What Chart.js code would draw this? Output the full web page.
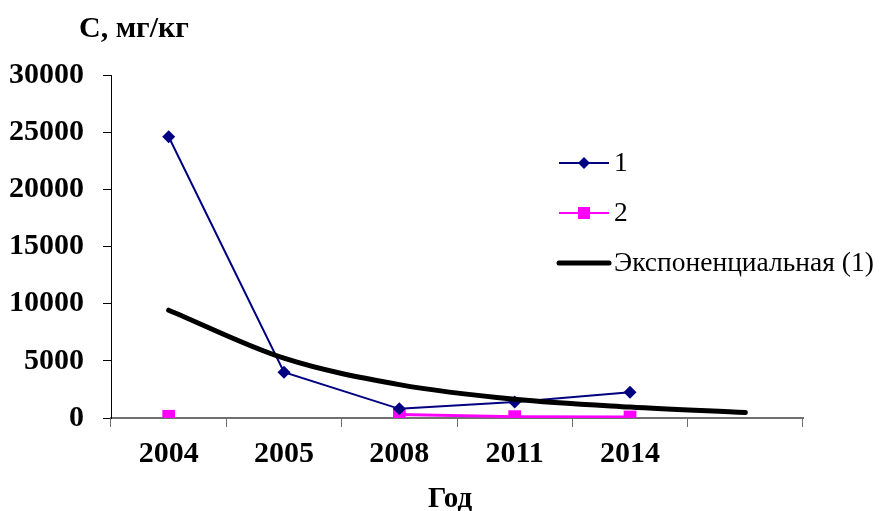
<!DOCTYPE html>
<html>
<head>
<meta charset="utf-8">
<script src="https://cdn.jsdelivr.net/npm/chart.js@4"></script>
<style>
  html, body { margin: 0; padding: 0; background: #fff; }
  #wrap { width: 880px; height: 511px; }
</style>
</head>
<body>
<div id="wrap"><canvas id="chart" width="880" height="511"></canvas></div>
<script>
const years = ['2004', '2005', '2008', '2011', '2014', ''];
const series1 = [24600, 4000, 800, 1400, 2250];
const series2 = [150, null, 300, 120, 90];
const trend = [9430, 5230, 2920, 1640, 960, 480];
const yTicks = [0, 5000, 10000, 15000, 20000, 25000, 30000];

const FONT = '"Liberation Serif", "Times New Roman", serif';

// header label, x title and legend drawn over the canvas, Excel style
const overlay = {
    id: 'overlay',
    afterDraw(chart) {
        const ctx = chart.ctx;
        ctx.save();
        ctx.fillStyle = '#000';
        ctx.font = 'bold 30px ' + FONT;
        ctx.textBaseline = 'alphabetic';
        ctx.textAlign = 'left';
        ctx.fillText('С, мг/кг', 79, 37);
        ctx.font = 'bold 29px ' + FONT;
        ctx.textAlign = 'center';
        ctx.fillText('Год', 450, 507);

        const items = [
            { text: '1', color: '#000080', width: 2, marker: 'diamond' },
            { text: '2', color: '#FF00FF', width: 2, marker: 'square' },
            { text: 'Экспоненциальная (1)', color: '#000', width: 5, marker: null }
        ];
        const rows = [163, 213, 263];
        ctx.font = '27.5px ' + FONT;
        ctx.textAlign = 'left';
        ctx.textBaseline = 'middle';
        items.forEach((it, i) => {
            const y = rows[i];
            ctx.strokeStyle = it.color;
            ctx.lineWidth = it.width;
            ctx.lineCap = it.marker ? 'butt' : 'round';
            ctx.beginPath();
            ctx.moveTo(559, y);
            ctx.lineTo(609, y);
            ctx.stroke();
            ctx.fillStyle = it.color;
            if (it.marker === 'diamond') {
                ctx.beginPath();
                ctx.moveTo(584, y - 6);
                ctx.lineTo(590, y);
                ctx.lineTo(584, y + 6);
                ctx.lineTo(578, y);
                ctx.closePath();
                ctx.fill();
            } else if (it.marker === 'square') {
                ctx.fillRect(578, y - 6, 12, 12);
            }
            ctx.fillStyle = '#000';
            ctx.fillText(it.text, 614, y + 1);
        });
        ctx.restore();
    }
};

const ctx = document.getElementById('chart').getContext('2d');

new Chart(ctx, {
    type: 'line',
    data: {
        labels: years,
        datasets: [
            {
                label: 'Экспоненциальная (1)',
                data: trend,
                borderColor: '#000',
                borderWidth: 5,
                borderCapStyle: 'round',
                pointRadius: 0,
                cubicInterpolationMode: 'monotone',
                order: 0
            },
            {
                label: '1',
                data: series1,
                borderColor: '#000080',
                backgroundColor: '#000080',
                borderWidth: 2,
                pointStyle: 'rectRot',
                pointRadius: 6.5,
                pointBorderWidth: 0,
                tension: 0,
                order: 1
            },
            {
                label: '2',
                data: series2,
                borderColor: '#FF00FF',
                backgroundColor: '#FF00FF',
                borderWidth: 3,
                pointStyle: 'rect',
                pointRadius: 9,
                pointBorderWidth: 0,
                spanGaps: false,
                tension: 0,
                order: 2
            }
        ]
    },
    options: {
        responsive: false,
        animation: false,
        layout: { padding: { top: 75, right: 77, left: 0, bottom: 0 } },
        plugins: {
            legend: { display: false },
            tooltip: { enabled: false },
            title: { display: false }
        },
        scales: {
            x: {
                offset: true,
                grid: {
                    offset: true,
                    drawOnChartArea: false,
                    drawTicks: true,
                    tickLength: 9,
                    color: '#707070',
                    lineWidth: 1
                },
                border: { color: '#707070', width: 2 },
                ticks: {
                    color: '#000',
                    font: { family: FONT, size: 30, weight: 'bold' },
                    padding: 9,
                    maxRotation: 0,
                    autoSkip: false
                },
                afterFit(scale) { scale.height = 93; }
            },
            y: {
                min: 0,
                max: 30000,
                afterBuildTicks(scale) { scale.ticks = yTicks.map(v => ({ value: v })); },
                grid: {
                    drawOnChartArea: false,
                    drawTicks: true,
                    tickLength: 8,
                    color: '#000'
                },
                border: { color: '#000', width: 1 },
                ticks: {
                    color: '#000',
                    font: { family: FONT, size: 30, weight: 'bold' },
                    padding: 19,
                    callback: (v) => String(v)
                },
                afterFit(scale) { scale.width = 111; }
            }
        }
    },
    plugins: [overlay]
});
</script>
</body>
</html>
